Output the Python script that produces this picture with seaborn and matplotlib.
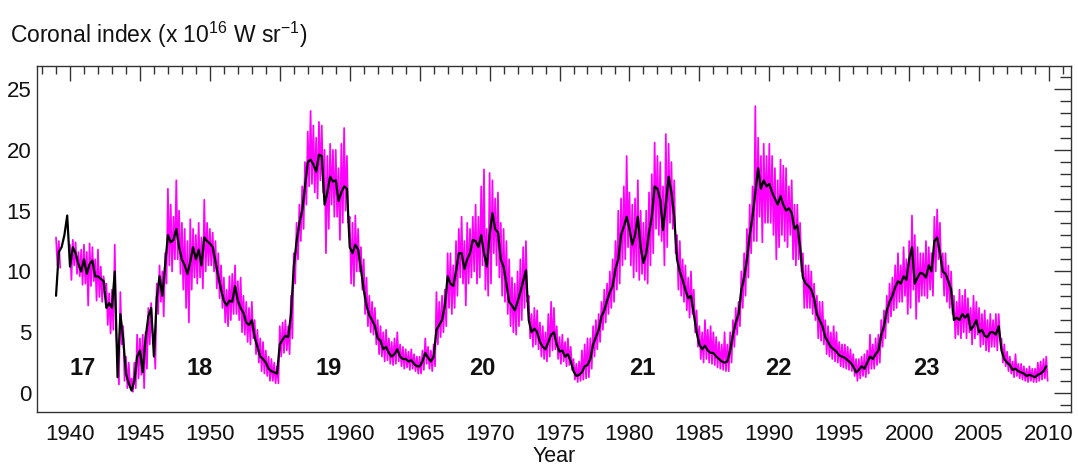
import numpy as np
import pandas as pd
import matplotlib
matplotlib.use("Agg")
import matplotlib.pyplot as plt
from matplotlib.ticker import MultipleLocator
import seaborn as sns

# Coronal index, sampled every 0.2 yr from 1939.0 (read from the figure)
# smoothed series (black)
smooth = [
    8.0, 11.6, 12.0, 13.0, 14.6,   # 1939
    10.4, 12.0, 11.5, 10.6, 10.0,  # 1940
    11.0, 9.8, 10.6, 10.9, 9.6,    # 1941
    9.6, 9.4, 9.2, 7.0, 7.4,       # 1942
    7.0, 10.0, 1.3, 6.5, 4.5,      # 1943
    1.6, 0.8, 0.2, 1.0, 3.0,       # 1944
    3.5, 1.7, 4.5, 6.3, 7.0,       # 1945
    3.0, 7.8, 9.6, 8.0, 10.5,      # 1946
    13.0, 12.4, 12.6, 13.5, 12.0,  # 1947
    11.0, 10.5, 9.8, 10.8, 12.0,   # 1948
    11.0, 11.8, 10.5, 12.8, 12.5,  # 1949
    12.3, 12.0, 10.8, 9.6, 8.5,    # 1950
    7.6, 7.2, 7.6, 7.5, 8.8,       # 1951
    7.6, 7.0, 6.6, 5.8, 5.6,       # 1952
    6.0, 4.6, 3.8, 3.0, 2.8,       # 1953
    2.5, 2.0, 1.8, 1.7, 1.6,       # 1954
    4.0, 4.4, 4.7, 4.6, 6.5,       # 1955
    10.4, 12.5, 14.0, 15.0, 17.0,  # 1956
    19.0, 19.2, 18.8, 18.2, 19.6,  # 1957
    19.5, 15.5, 16.5, 17.8, 17.4,  # 1958
    17.5, 15.8, 16.5, 17.0, 16.8,  # 1959
    12.0, 11.5, 12.2, 11.8, 10.2,  # 1960
    8.5, 7.2, 6.4, 6.0, 5.5,       # 1961
    4.5, 4.3, 3.6, 3.8, 3.3,       # 1962
    3.0, 3.2, 3.6, 3.0, 2.8,       # 1963
    2.8, 2.6, 2.7, 2.4, 2.2,       # 1964
    2.2, 2.6, 3.3, 2.9, 2.6,       # 1965
    3.0, 5.2, 5.6, 6.0, 7.2,       # 1966
    9.6, 9.0, 8.8, 10.0, 11.5,     # 1967
    11.5, 10.2, 11.0, 11.5, 12.6,  # 1968
    12.5, 12.0, 13.0, 11.5, 10.4,  # 1969
    13.0, 14.8, 13.5, 13.2, 11.0,  # 1970
    10.4, 9.0, 7.5, 7.2, 6.8,      # 1971
    7.5, 8.3, 9.2, 10.1, 6.0,      # 1972
    5.0, 5.3, 5.0, 4.2, 3.8,       # 1973
    3.6, 4.2, 4.8, 5.0, 4.0,       # 1974
    3.4, 3.5, 3.0, 3.2, 2.6,       # 1975
    1.8, 1.4, 1.5, 1.7, 2.2,       # 1976
    2.3, 2.8, 4.0, 4.6, 5.2,       # 1977
    6.3, 6.8, 7.6, 8.3, 8.8,       # 1978
    10.2, 11.0, 13.0, 13.7, 14.5,  # 1979
    13.5, 12.2, 13.0, 14.5, 12.0,  # 1980
    10.7, 11.5, 13.2, 14.5, 17.0,  # 1981
    16.8, 15.9, 13.4, 15.5, 17.8,  # 1982
    16.5, 14.5, 11.0, 10.0, 9.3,   # 1983
    8.5, 7.8, 8.0, 6.5, 5.0,       # 1984
    4.0, 3.6, 3.9, 3.5, 3.3,       # 1985
    3.3, 3.0, 2.8, 2.6, 2.5,       # 1986
    2.6, 3.5, 4.8, 5.8, 6.5,       # 1987
    8.5, 9.5, 11.0, 13.0, 14.5,    # 1988
    16.5, 18.5, 16.8, 17.5, 17.0,  # 1989
    17.2, 16.5, 16.0, 15.5, 16.2,  # 1990
    15.5, 15.0, 15.2, 14.8, 13.5,  # 1991
    13.8, 12.0, 9.5, 9.0, 8.8,     # 1992
    8.5, 7.8, 6.5, 6.0, 5.5,       # 1993
    4.6, 4.2, 3.8, 3.6, 3.4,       # 1994
    3.1, 3.0, 2.9, 2.7, 2.5,       # 1995
    2.2, 1.7, 1.9, 2.2, 2.0,       # 1996
    2.5, 3.0, 2.8, 3.2, 3.5,       # 1997
    4.8, 5.5, 6.8, 7.5, 8.0,       # 1998
    8.7, 9.2, 9.0, 9.6, 9.3,       # 1999
    11.0, 12.0, 9.0, 9.5, 9.9,     # 2000
    9.8, 9.5, 10.5, 10.0, 12.5,    # 2001
    12.8, 11.5, 10.0, 9.8, 9.2,    # 2002
    8.5, 6.0, 6.2, 6.0, 6.5,       # 2003
    6.2, 6.5, 5.2, 5.5, 6.0,       # 2004
    5.0, 5.2, 4.7, 4.6, 5.0,       # 2005
    5.0, 4.8, 5.5, 3.5, 2.8,       # 2006
    2.5, 2.3, 1.9, 2.0, 1.8,       # 2007
    1.7, 1.6, 1.4, 1.5, 1.4,       # 2008
    1.3, 1.5, 1.6, 1.8, 2.2,       # 2009
]

nan = np.nan
# daily series (magenta): upper and lower reach of the spikes in each 0.2 yr
daily_hi = [
    12.8, 12.5, nan, nan, nan,     # 1939
    12.2, 12.6, 12.4, 11.6, 11.8,  # 1940
    12.2, 11.6, 12.3, 12.0, 11.0,  # 1941
    11.8, 10.4, 9.6, 9.0, 8.2,     # 1942
    8.5, 12.2, 3.0, 8.3, 5.5,      # 1943
    3.0, 2.5, 1.2, 2.5, 4.8,       # 1944
    4.5, 4.8, 5.0, 7.0, 7.4,       # 1945
    4.5, 9.0, 10.5, 10.0, 11.5,    # 1946
    16.8, 15.5, 14.5, 17.5, 15.0,  # 1947
    14.0, 13.5, 12.5, 14.3, 13.5,  # 1948
    13.0, 14.0, 12.8, 15.9, 14.0,  # 1949
    13.5, 13.2, 12.5, 11.5, 10.5,  # 1950
    9.5, 8.5, 9.6, 9.8, 10.5,      # 1951
    9.2, 9.5, 8.0, 7.5, 7.0,       # 1952
    7.5, 6.0, 5.2, 4.5, 4.2,       # 1953
    3.5, 3.0, 2.8, 2.5, 2.2,       # 1954
    5.5, 5.8, 6.0, 5.5, 8.0,       # 1955
    11.5, 14.0, 15.5, 17.0, 19.0,  # 1956
    21.5, 23.2, 22.0, 21.0, 22.3,  # 1957
    22.0, 20.0, 19.5, 20.5, 20.0,  # 1958
    20.0, 18.5, 20.5, 21.8, 19.5,  # 1959
    14.5, 14.0, 14.6, 13.5, 12.0,  # 1960
    11.0, 9.5, 8.0, 7.5, 7.0,      # 1961
    6.0, 5.5, 5.0, 5.2, 4.5,       # 1962
    4.2, 4.5, 5.0, 4.0, 3.8,       # 1963
    3.6, 3.4, 3.6, 3.2, 3.0,       # 1964
    3.0, 3.5, 4.5, 3.8, 3.5,       # 1965
    4.0, 8.3, 7.5, 8.0, 8.5,       # 1966
    11.5, 11.5, 10.5, 12.5, 13.5,  # 1967
    14.5, 12.5, 14.0, 13.5, 14.5,  # 1968
    15.5, 14.5, 17.0, 18.4, 13.5,  # 1969
    18.1, 17.5, 16.0, 16.5, 14.0,  # 1970
    13.5, 12.5, 11.0, 9.5, 9.0,    # 1971
    10.0, 11.0, 12.0, 12.5, 8.0,   # 1972
    6.5, 7.0, 6.8, 5.8, 5.5,       # 1973
    5.0, 6.5, 7.5, 7.0, 5.5,       # 1974
    4.6, 4.8, 4.2, 4.5, 3.8,       # 1975
    2.8, 2.4, 2.6, 3.5, 4.0,       # 1976
    4.5, 4.5, 5.5, 6.0, 6.5,       # 1977
    7.5, 8.5, 9.0, 10.0, 11.0,     # 1978
    12.5, 15.0, 16.0, 17.0, 19.5,  # 1979
    16.5, 15.5, 16.0, 17.5, 15.0,  # 1980
    14.0, 15.0, 16.5, 18.0, 20.6,  # 1981
    19.5, 19.0, 17.0, 21.3, 20.5,  # 1982
    19.0, 17.5, 13.0, 12.5, 11.0,  # 1983
    10.5, 9.5, 10.0, 8.5, 6.8,     # 1984
    5.5, 5.0, 6.0, 5.2, 5.5,       # 1985
    5.0, 4.6, 4.2, 4.0, 5.0,       # 1986
    4.0, 5.0, 6.0, 7.0, 7.5,       # 1987
    10.0, 11.5, 13.5, 15.5, 17.0,  # 1988
    23.6, 21.0, 19.5, 20.5, 19.5,  # 1989
    20.5, 19.5, 18.5, 17.5, 19.2,  # 1990
    18.7, 18.5, 17.0, 17.5, 15.5,  # 1991
    15.5, 14.0, 11.5, 10.5, 10.5,  # 1992
    10.0, 9.0, 8.0, 7.5, 7.5,      # 1993
    6.0, 5.5, 5.0, 5.5, 5.0,       # 1994
    4.2, 4.0, 4.0, 3.8, 3.6,       # 1995
    3.2, 2.8, 2.8, 3.0, 3.2,       # 1996
    3.5, 4.8, 4.0, 4.5, 4.8,       # 1997
    6.0, 6.8, 8.0, 9.0, 9.5,       # 1998
    10.5, 11.5, 10.5, 12.0, 11.0,  # 1999
    12.5, 14.6, 13.0, 12.0, 11.5,  # 2000
    11.5, 12.5, 12.0, 11.5, 14.5,  # 2001
    15.1, 14.0, 11.5, 11.5, 10.5,  # 2002
    10.0, 8.0, 7.5, 8.5, 8.0,      # 2003
    8.5, 7.8, 7.0, 8.0, 7.5,       # 2004
    7.0, 6.5, 6.8, 6.0, 6.5,       # 2005
    6.0, 6.5, 6.5, 4.5, 4.0,       # 2006
    3.4, 3.0, 2.6, 3.2, 2.4,       # 2007
    2.4, 2.2, 2.0, 2.2, 2.0,       # 2008
    2.0, 2.5, 2.6, 2.8, 3.0,       # 2009
]
daily_lo = [
    10.5, 10.3, nan, nan, nan,     # 1939
    9.3, 10.5, 9.8, 9.6, 8.9,      # 1940
    9.0, 7.2, 8.8, 9.2, 7.6,       # 1941
    7.9, 7.5, 8.6, 5.6, 4.9,       # 1942
    5.2, 5.0, 0.7, 4.0, 1.0,       # 1943
    0.4, 0.5, 0.1, 0.4, 1.2,       # 1944
    1.5, 0.4, 2.0, 4.0, 5.0,       # 1945
    2.0, 6.5, 7.5, 6.3, 9.0,       # 1946
    10.5, 10.0, 11.0, 11.0, 9.8,   # 1947
    8.5, 7.0, 5.8, 8.5, 9.5,       # 1948
    9.0, 9.5, 8.6, 10.0, 10.5,     # 1949
    10.5, 10.0, 8.6, 7.8, 7.0,     # 1950
    5.8, 5.5, 6.0, 6.5, 6.5,       # 1951
    6.0, 5.0, 4.8, 4.2, 4.0,       # 1952
    4.5, 3.2, 2.5, 1.8, 1.6,       # 1953
    1.4, 1.0, 1.0, 0.8, 0.8,       # 1954
    3.0, 3.3, 3.5, 3.2, 4.5,       # 1955
    9.0, 11.0, 12.5, 13.5, 15.5,   # 1956
    17.0, 17.2, 16.5, 16.0, 17.5,  # 1957
    16.5, 11.5, 13.5, 15.5, 14.5,  # 1958
    14.5, 12.6, 14.0, 15.0, 14.0,  # 1959
    9.0, 8.8, 10.0, 10.0, 8.5,     # 1960
    6.5, 5.5, 5.0, 4.8, 4.0,       # 1961
    3.2, 3.0, 2.6, 2.7, 2.4,       # 1962
    2.3, 2.4, 2.6, 2.2, 2.0,       # 1963
    2.1, 1.9, 2.0, 1.8, 1.6,       # 1964
    1.6, 1.9, 2.4, 2.0, 1.8,       # 1965
    2.2, 4.0, 4.6, 5.0, 5.5,       # 1966
    7.0, 6.5, 7.0, 8.0, 9.5,       # 1967
    9.0, 7.2, 9.0, 9.5, 10.0,      # 1968
    9.0, 9.5, 10.5, 8.5, 8.0,      # 1969
    9.0, 11.5, 10.5, 9.5, 8.0,     # 1970
    7.5, 6.5, 5.5, 5.0, 4.8,       # 1971
    5.5, 6.0, 7.0, 7.5, 4.5,       # 1972
    3.8, 4.0, 3.6, 3.0, 2.8,       # 1973
    2.6, 3.0, 3.5, 3.6, 2.8,       # 1974
    2.4, 2.6, 2.2, 2.3, 1.9,       # 1975
    1.1, 0.9, 1.0, 1.1, 1.2,       # 1976
    1.3, 2.0, 3.0, 3.6, 4.2,       # 1977
    5.2, 5.8, 6.5, 7.0, 7.5,       # 1978
    8.5, 9.0, 10.5, 11.0, 12.0,    # 1979
    10.5, 9.5, 10.0, 9.3, 9.8,     # 1980
    9.3, 9.0, 10.5, 11.5, 13.5,    # 1981
    13.0, 12.5, 10.5, 12.0, 14.0,  # 1982
    13.5, 11.5, 8.5, 8.0, 7.5,     # 1983
    6.8, 6.2, 6.5, 5.0, 3.8,       # 1984
    2.8, 2.5, 2.8, 2.5, 2.4,       # 1985
    2.3, 2.1, 2.0, 1.9, 1.8,       # 1986
    1.8, 2.5, 3.8, 4.8, 5.5,       # 1987
    7.0, 8.0, 9.5, 11.5, 12.5,     # 1988
    12.5, 14.5, 12.4, 14.0, 14.0,  # 1989
    14.0, 13.0, 11.0, 12.0, 13.0,  # 1990
    12.5, 12.0, 13.0, 11.0, 10.5,  # 1991
    11.0, 10.0, 7.0, 7.0, 7.0,     # 1992
    6.5, 6.0, 4.5, 4.3, 4.0,       # 1993
    3.2, 3.0, 2.8, 2.6, 2.5,       # 1994
    2.2, 2.1, 2.0, 1.9, 1.8,       # 1995
    1.4, 1.0, 1.2, 1.4, 1.3,       # 1996
    1.6, 2.0, 2.0, 2.3, 2.5,       # 1997
    3.8, 4.5, 5.8, 6.3, 6.8,       # 1998
    7.0, 7.5, 7.5, 8.0, 6.5,       # 1999
    7.0, 8.5, 6.1, 7.5, 8.0,       # 2000
    8.0, 7.8, 8.5, 8.0, 10.0,      # 2001
    11.0, 9.5, 8.0, 7.5, 7.0,      # 2002
    6.5, 4.5, 4.8, 4.5, 5.0,       # 2003
    4.5, 5.0, 4.0, 4.5, 4.8,       # 2004
    3.8, 4.0, 3.5, 3.4, 3.8,       # 2005
    3.8, 3.5, 4.5, 2.5, 2.2,       # 2006
    1.8, 1.6, 1.3, 1.4, 1.2,       # 2007
    1.1, 1.0, 0.9, 1.0, 0.9,       # 2008
    0.9, 1.0, 1.1, 1.2, 1.0,       # 2009
]

cycle_names = ["17", "18", "19", "20", "21", "22", "23"]
cycle_years = [1940.9, 1949.3, 1958.5, 1969.5, 1980.9, 1990.65, 2001.25]
cycle_y = 2.0

sns.set_style("white")
plt.rcParams["font.family"] = ["Liberation Sans", "DejaVu Sans"]
plt.rcParams["mathtext.fontset"] = "custom"
plt.rcParams["mathtext.rm"] = "Liberation Sans"
plt.rcParams["mathtext.default"] = "regular"

step = 0.2
years = 1939.0 + np.arange(len(smooth)) * step

# magenta spikes: alternate between top and bottom of each interval
spike_t = np.column_stack([years, years + step / 2]).ravel()
spike_v = np.column_stack([daily_hi, daily_lo]).ravel()
daily = pd.DataFrame({"year": spike_t, "value": spike_v})
daily["seg"] = (daily.year >= 1940).astype(int)
daily = daily.dropna()

smoothed = pd.DataFrame({"year": years, "value": smooth})

fig = plt.figure(figsize=(10.78, 4.71), dpi=100)
ax = fig.add_axes([37 / 1078, 1 - 412 / 471, 1034 / 1078, 346 / 471])

sns.lineplot(data=daily, x="year", y="value", units="seg", estimator=None,
             color="#ff00ff", lw=1.25, ax=ax)
sns.lineplot(data=smoothed, x="year", y="value", estimator=None,
             errorbar=None, color="black", lw=1.6, ax=ax)

for name, yr in zip(cycle_names, cycle_years):
    ax.text(yr, cycle_y, name, fontsize=17, fontweight="bold",
            ha="center", va="center", color="#111111")

ax.set_xlim(1937.64, 2011.57)
ax.set_ylim(-1.56, 26.9)
ax.xaxis.set_major_locator(MultipleLocator(5))
ax.xaxis.set_minor_locator(MultipleLocator(1))
ax.yaxis.set_major_locator(MultipleLocator(5))
ax.yaxis.set_minor_locator(MultipleLocator(1))
ax.tick_params(which="both", direction="in", top=True, right=True,
               color="#333333", width=1.0, labelsize=16, labelcolor="#111111")
ax.tick_params(axis="x", which="major", length=11, pad=9)
ax.tick_params(axis="x", which="minor", length=5.5)
ax.tick_params(axis="y", which="major", length=12, pad=4)
ax.tick_params(axis="y", which="minor", length=8)
for sp in ax.spines.values():
    sp.set_color("#333333")
    sp.set_linewidth(1.0)

ax.set_xlabel("Year", fontsize=15.5, labelpad=0, color="#111111")
ax.set_ylabel("")
fig.text(10 / 1078, 1 - 35 / 471, r"Coronal index (x 10$^{16}$ W sr$^{-1}$)",
         fontsize=16.5, ha="left", va="center", color="#111111")

fig.savefig("out.png", dpi=100)
